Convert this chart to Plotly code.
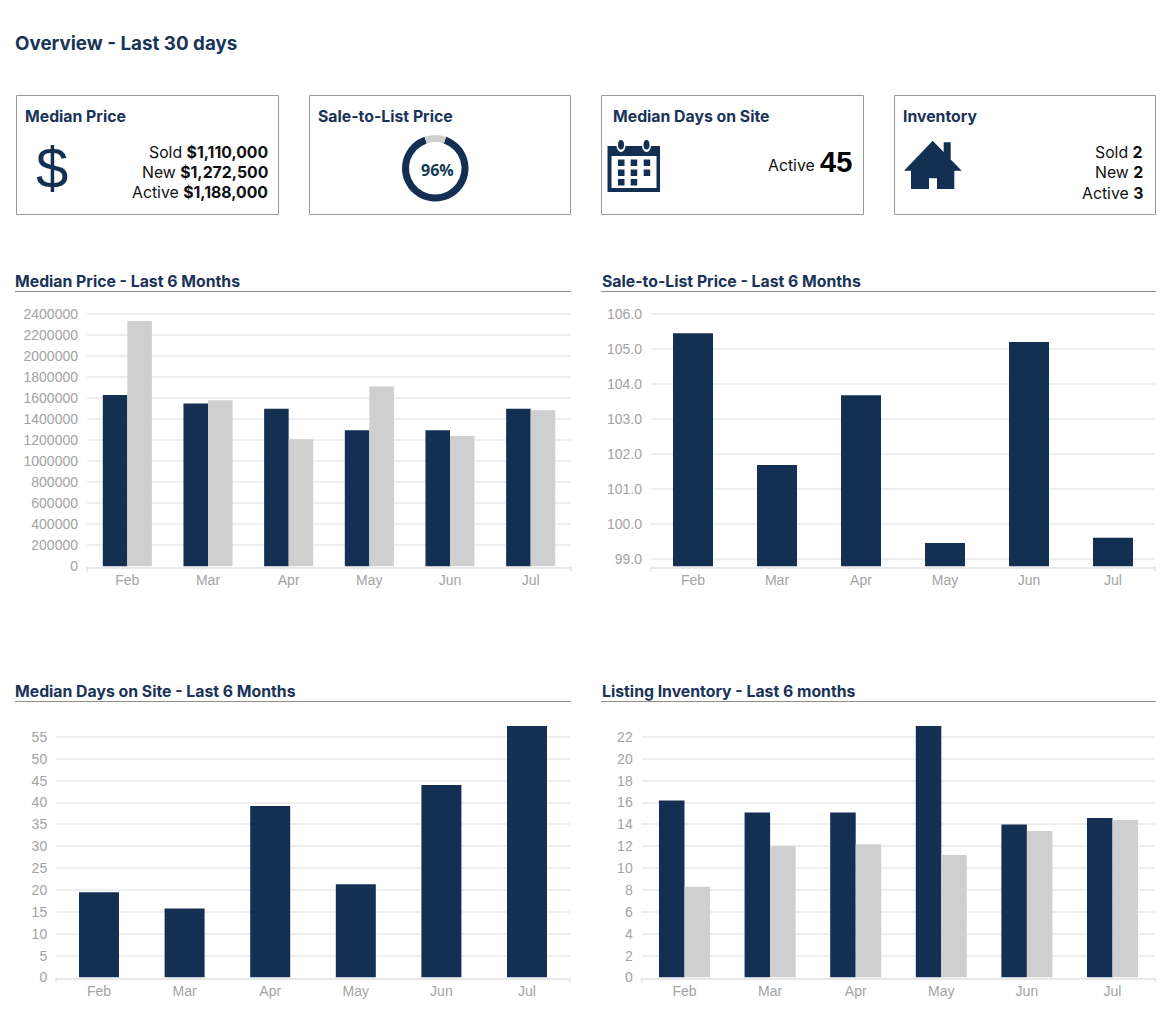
import plotly.graph_objects as go

W, H = 1171, 1027
NAVY = "#132f52"
GRAY = "#cfcfcf"
TITLE = "#1a3358"
TITLE_FONT = "Inter"
TICK = "#a3a3a3"

months = ["Feb", "Mar", "Apr", "May", "Jun", "Jul"]

price_sold = [1629000, 1550000, 1500000, 1295000, 1295000, 1500000]
price_new = [2333000, 1580000, 1210000, 1710000, 1240000, 1485000]
price_ticks = [0, 200000, 400000, 600000, 800000, 1000000, 1200000, 1400000,
               1600000, 1800000, 2000000, 2200000, 2400000]

sale_to_list = [105.45, 101.68, 103.68, 99.45, 105.2, 99.6]
sale_ticks = [99, 100, 101, 102, 103, 104, 105, 106]

days_on_site = [19.5, 15.8, 39.2, 21.3, 44, 57.5]
days_ticks = [0, 5, 10, 15, 20, 25, 30, 35, 40, 45, 50, 55]

inventory_sold = [16.2, 15.1, 15.1, 23, 14, 14.6]
inventory_new = [8.3, 12, 12.2, 11.2, 13.4, 14.4]
inventory_ticks = [0, 2, 4, 6, 8, 10, 12, 14, 16, 18, 20, 22]

ring_values = [89.5, 10.5]


def px(x):
    return x / W


def py(y):
    return 1 - y / H


fig = go.Figure()
shapes = []
annotations = []


def text(x, y, s, size=15.8, color="#111111", anchor="left", family=TITLE_FONT, weight=None):
    font = dict(family=family, size=size, color=color)
    if weight:
        font["weight"] = weight
    annotations.append(dict(x=px(x), y=py(y), xref="paper", yref="paper", text=s,
                            showarrow=False, xanchor=anchor, yanchor="middle",
                            font=font, borderpad=0, borderwidth=0))


def rect(x0, y0, x1, y1, fill=None, line=None, lw=1):
    shapes.append(dict(type="rect", xref="paper", yref="paper", x0=px(x0), x1=px(x1),
                       y0=py(y1), y1=py(y0), fillcolor=fill or "rgba(0,0,0,0)",
                       line=dict(color=line or "rgba(0,0,0,0)", width=lw if line else 0)))


def hline(x0, x1, y, color, lw=1):
    shapes.append(dict(type="line", xref="paper", yref="paper", x0=px(x0), x1=px(x1),
                       y0=py(y), y1=py(y), line=dict(color=color, width=lw)))


def vline(x, y0, y1, color, lw=2):
    shapes.append(dict(type="line", xref="paper", yref="paper", x0=px(x), x1=px(x),
                       y0=py(y0), y1=py(y1), line=dict(color=color, width=lw)))


def ellipse(x0, y0, x1, y1, fill):
    shapes.append(dict(type="circle", xref="paper", yref="paper", x0=px(x0), x1=px(x1),
                       y0=py(y1), y1=py(y0), fillcolor=fill, line=dict(width=0)))


def panel(idx, x0, x1, ybase, ytop, vtop_px, vref, vbase, ticks, series, bar_w, tickfmt=None):
    scale = (ybase - vtop_px) / (vref - vbase)
    top_val = vbase + (ybase - ytop) / scale
    xa, ya = f"xaxis{idx}", f"yaxis{idx}"
    fig.update_layout(**{
        xa: dict(domain=[px(x0), px(x1)], anchor=f"y{idx}", type="category",
                 categoryorder="array", categoryarray=months, showgrid=False, zeroline=False,
                 showline=True, linecolor="#e8e8e8", linewidth=2, ticks="", automargin=False,
                 tickfont=dict(family="Liberation Sans", size=14, color=TICK),
                 ticklabelstandoff=0, fixedrange=True),
        ya: dict(domain=[py(ybase), py(ytop)], anchor=f"x{idx}", range=[vbase, top_val],
                 tickmode="array", tickvals=ticks, tickformat=tickfmt or "d", automargin=False,
                 showgrid=True, gridcolor="#eeeeee", gridwidth=2, zeroline=False,
                 showline=False, ticks="",
                 tickfont=dict(family="Liberation Sans", size=14, color=TICK),
                 ticklabelstandoff=8, fixedrange=True),
    })
    n = len(series)
    for k, (vals, col) in enumerate(series):
        fig.add_trace(go.Bar(x=months, y=[v - vbase for v in vals], base=vbase,
                             width=bar_w, offset=(k - n / 2) * bar_w,
                             marker=dict(color=col, line=dict(width=0)),
                             xaxis=f"x{idx}", yaxis=f"y{idx}", showlegend=False))
    vline(x0, ybase, ybase + 5, "#e8e8e8")
    vline(x1, ybase, ybase + 5, "#e8e8e8")


panel(1, 87, 571, 566.5, 308, 314, 2400000, 0, price_ticks,
      [(price_sold, NAVY), (price_new, GRAY)], 0.304)
panel(2, 651, 1155, 566.5, 308, 314, 106, 98.78, sale_ticks,
      [(sale_to_list, NAVY)], 0.476, ".1f")
panel(3, 56.2, 569.8, 977.5, 720, 737, 55, 0, days_ticks,
      [(days_on_site, NAVY)], 0.467)
panel(4, 641.7, 1155.3, 977.5, 720, 737, 22, 0, inventory_ticks,
      [(inventory_sold, NAVY), (inventory_new, GRAY)], 0.298)

fig.update_layout(barmode="overlay")

# Ring gauge
fig.add_trace(go.Pie(values=ring_values, hole=0.79, rotation=19, sort=False, direction="clockwise",
                     marker=dict(colors=[NAVY, GRAY], line=dict(width=0)), textinfo="none",
                     showlegend=False, domain=dict(x=[px(402), px(468.5)], y=[py(201.5), py(135)])))

# Heading
text(15, 43.5, "Overview - Last 30 days", size=18.8, color=TITLE, weight=700)

# Cards
for x0, x1 in [(16.5, 278.5), (309.5, 570.5), (601.5, 863.5), (894.5, 1155.5)]:
    rect(x0, 95.5, x1, 214.5, line="#9a9a9a", lw=1)
text(25, 117, "Median Price", color=TITLE, weight=700)
text(318, 117, "Sale-to-List Price", color=TITLE, weight=700)
text(613, 117, "Median Days on Site", color=TITLE, weight=700)
text(903, 117, "Inventory", color=TITLE, weight=700)

for y, s in zip([153, 173, 192.5], ["Sold <b>$1,110,000</b>", "New <b>$1,272,500</b>", "Active <b>$1,188,000</b>"]):
    text(268, y, s, anchor="right")
for y, s in zip([153, 173, 193], ["Sold <b>2</b>", "New <b>2</b>", "Active <b>3</b>"]):
    text(1143, y, s, anchor="right")
text(815, 165, "Active", anchor="right")
text(852, 162, "<b>45</b>", anchor="right", size=29, family="Liberation Sans", color="#000000")
text(437, 170, "<b>96%</b>", size=16, color="#123a50", anchor="center", family="Open Sans")
text(52, 167, "$", size=58, color=NAVY, anchor="center", family="Liberation Sans")

# Calendar icon
rect(607.5, 146, 660, 192, fill=NAVY)
rect(611.5, 156, 656.5, 188, fill="white")
for cx in (621, 646.5):
    ellipse(cx - 4.5, 139, cx + 4.5, 152, "white")
    ellipse(cx - 3, 140, cx + 3, 149.5, NAVY)
for r, y in enumerate((159.5, 169.5, 179)):
    for c, x in enumerate((618, 630.7, 643.7)):
        if r == 2 and c == 2:
            continue
        rect(x, y, x + 6.5, y + 6.5, fill=NAVY)

# House icon
house = [(932.7, 140.7), (943.7, 152), (943.7, 142.3), (950.7, 142.3), (950.7, 159.5), (961.7, 170.7),
         (954.3, 170.7), (954.3, 189), (937, 189), (937, 178.3), (929, 178.3), (929, 189), (911, 189),
         (911, 170.7), (904, 170.7)]
shapes.append(dict(type="path", xref="paper", yref="paper",
                   path="M " + " L ".join(f"{px(a):.5f} {py(b):.5f}" for a, b in house) + " Z",
                   fillcolor=NAVY, line=dict(width=0)))

# Section headings
for x, y, s, x0, x1 in [(15, 281.5, "Median Price - Last 6 Months", 15, 571),
                        (602, 281.5, "Sale-to-List Price - Last 6 Months", 601, 1156),
                        (15, 691.5, "Median Days on Site - Last 6 Months", 15, 571),
                        (602, 691.5, "Listing Inventory - Last 6 months", 601, 1156)]:
    text(x, y, s, color=TITLE, weight=700)
    hline(x0, x1, 291.5 if y < 500 else 701.5, "#8e8e8e", 1)

fig.update_layout(width=W, height=H, margin=dict(l=0, r=0, t=0, b=0, autoexpand=False), paper_bgcolor="white",
                  plot_bgcolor="white", shapes=shapes, annotations=annotations, autosize=False)

fig.write_html("out.html", config=dict(displayModeBar=False),
               post_script="document.body.style.margin='0';document.body.style.overflow='hidden';")
